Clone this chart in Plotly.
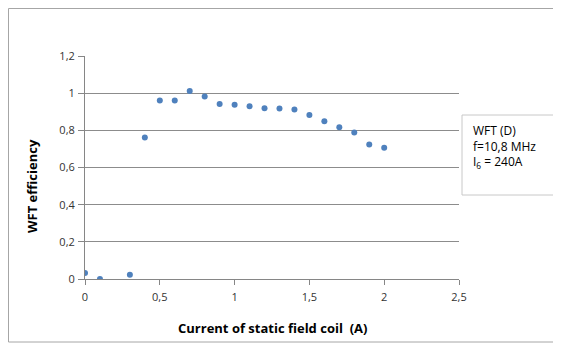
import plotly.graph_objects as go

current = [0, 0.1, 0.3, 0.4, 0.5, 0.6, 0.7, 0.8, 0.9, 1.0, 1.1, 1.2, 1.3, 1.4, 1.5, 1.6, 1.7, 1.8, 1.9, 2.0]
efficiency = [0.032, 0.0, 0.023, 0.761, 0.96, 0.96, 1.012, 0.982, 0.942, 0.937, 0.93, 0.919, 0.917, 0.912,
              0.882, 0.849, 0.817, 0.788, 0.724, 0.706]

x_ticks = [0, 0.5, 1, 1.5, 2, 2.5]
y_ticks = [0, 0.2, 0.4, 0.6, 0.8, 1, 1.2]

OFF = 8  # page body margin
W, H = 561 - OFF, 344 - OFF
L, R, T, B = 85 - OFF, 459 - OFF, 56 - OFF, 279 - OFF
pw, ph = R - L, B - T

def px(x):
    return (x - OFF - L) / pw

def py(y):
    return (B - (y - OFF)) / ph

def seg(x0, y0, x1, y1, color):
    return dict(type="line", xref="paper", yref="paper",
                x0=px(x0), y0=py(y0), x1=px(x1), y1=py(y1),
                line=dict(color=color, width=1), layer="below")

font = "Open Sans, Liberation Sans, sans-serif"

fig = go.Figure()
fig.add_trace(go.Scatter(
    x=current, y=efficiency, mode="markers",
    marker=dict(color="#4f81bd", size=6),
    showlegend=False,
))

frame = "#a6a6a6"
box = "#c8c8c8"
fig.update_layout(
    width=W, height=H,
    margin=dict(l=L, r=W - R, t=T, b=H - B),
    paper_bgcolor="white", plot_bgcolor="white",
    separators=", ",
    font=dict(family=font, size=11, color="#333333"),
    xaxis=dict(
        range=[0, 2.5], tickvals=x_ticks, showgrid=False, zeroline=False,
        showline=True, linecolor="#868686", linewidth=1,
        ticks="outside", ticklen=5, tickcolor="#868686", ticklabelstandoff=3,
    ),
    yaxis=dict(
        range=[0, 1.2], tickvals=y_ticks, showgrid=True, gridcolor="#8c8c8c", gridwidth=1,
        zeroline=False, showline=True, linecolor="#868686", linewidth=1,
        ticks="outside", ticklen=6, tickcolor="#868686", ticklabelstandoff=1,
    ),
    shapes=[
        seg(8.5, 8.5, 561, 8.5, frame),
        seg(8.5, 8.5, 8.5, 342, frame),
        seg(8.5, 342, 561, 342, frame),
        seg(462, 115, 561, 115, box),
        seg(462, 115, 462, 195, box),
        seg(462, 195, 561, 195, box),
    ],
    annotations=[
        dict(text="<b>WFT efficiency</b>", xref="paper", yref="paper",
             x=px(32), y=py(186), textangle=-90, showarrow=False,
             font=dict(size=13, color="#000000"), xanchor="center", yanchor="middle"),
        dict(text="<b>Current of static field coil  (A)</b>", xref="paper", yref="paper",
             x=px(272), y=py(328), showarrow=False,
             font=dict(size=13, color="#000000"), xanchor="center", yanchor="middle"),
        dict(text="WFT (D)<br>f=10,8 MHz<br>I<sub>6</sub> = 240A", xref="paper", yref="paper",
             x=px(471), y=py(146), showarrow=False, align="left",
             xanchor="left", yanchor="middle",
             font=dict(size=12, color="#000000")),
    ],
)

fig.write_html("out.html")
